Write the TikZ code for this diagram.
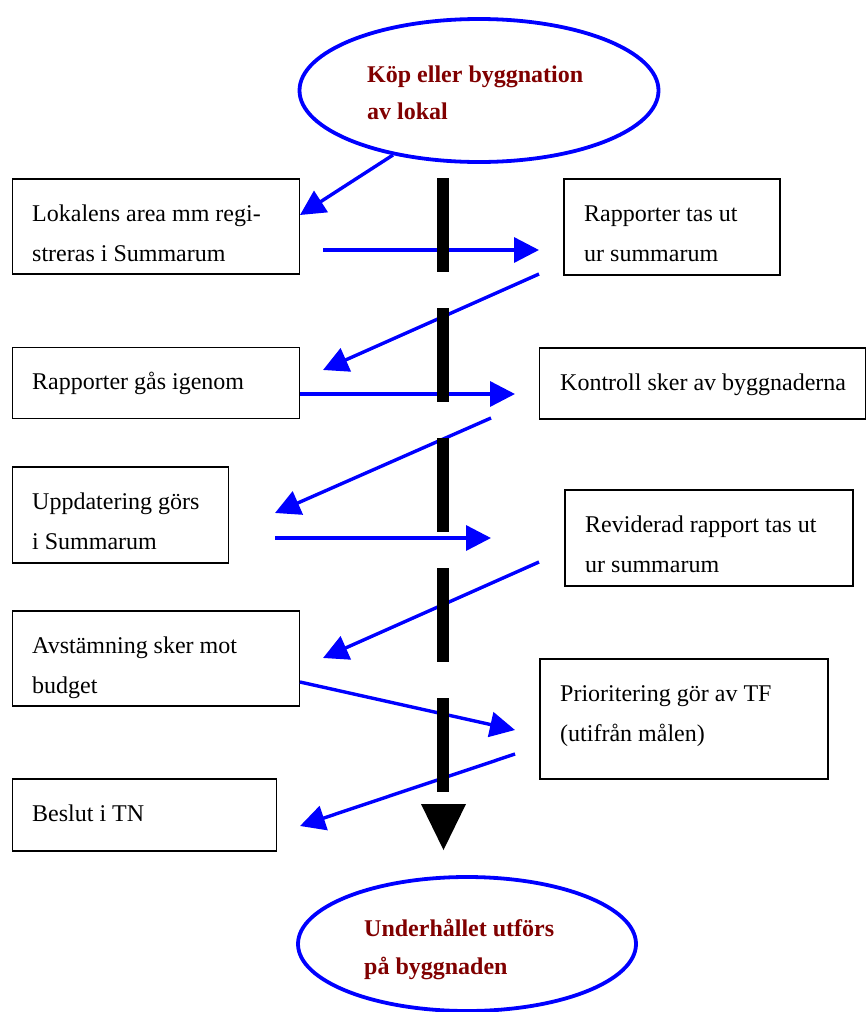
\documentclass[tikz,border=0pt]{standalone}
\usepackage{fontspec}
\setmainfont{Liberation Serif}
\usetikzlibrary{arrows.meta,shapes.geometric}
\definecolor{maroonred}{RGB}{128,0,0}
\definecolor{pureblue}{RGB}{0,0,255}
\newcommand{\twoln}[3]{\vtop{\baselineskip=#3pt\hbox{#1}\hbox{#2}}}
\begin{document}
\begin{tikzpicture}[x=1pt,y=-1pt,
  font=\fontsize{24}{40}\selectfont,
  box/.style={draw=black, line width=1.8pt, rectangle, anchor=north west, inner sep=0pt},
  txt/.style={anchor=base west, inner sep=0pt},
  etxt/.style={anchor=base west, inner sep=0pt, text=maroonred, font=\fontsize{24}{37}\selectfont\bfseries},
  flow/.style={draw=pureblue, line width=3.4pt, -{Triangle[length=25pt,width=25pt]}},
  oval/.style={draw=pureblue, line width=3.8pt, ellipse, inner sep=0pt},
  bar/.style={fill=black}]
\useasboundingbox (0,0) rectangle (866,1012);

% ellipses
\node[oval, minimum width=359pt, minimum height=143pt] (e1) at (479,90.5) {};
\node[etxt] (et1) at (367,82) {\twoln{Köp eller byggnation}{av lokal}{37}};
\node[oval, minimum width=338pt, minimum height=134pt] (e2) at (467,944) {};
\node[etxt] (et2) at (364,936) {\twoln{Underhållet utförs}{på byggnaden}{38}};

% boxes
\node[box, minimum width=287pt, minimum height=95pt] (b1) at (11.5,178) {};
\node[txt] (t1) at (32,221) {\twoln{Lokalens area mm regi-}{streras i Summarum}{40}};
\node[box, minimum width=216pt, minimum height=96pt] (b2) at (563,178) {};
\node[txt] (t2) at (584,221) {\twoln{Rapporter tas ut}{ur summarum}{40}};
\node[box, minimum width=287pt, minimum height=71pt] (b3) at (11.5,346.5) {};
\node[txt] (t3) at (32,389.5) {Rapporter gås igenom};
\node[box, minimum width=326.5pt, minimum height=71pt] (b4) at (538.5,347) {};
\node[txt] (t4) at (560,390) {Kontroll sker av byggnaderna};
\node[box, minimum width=216pt, minimum height=96pt] (b5) at (11.5,466) {};
\node[txt] (t5) at (32,509) {\twoln{Uppdatering görs}{i Summarum}{40}};
\node[box, minimum width=288pt, minimum height=96pt] (b6) at (564,489) {};
\node[txt] (t6) at (585,532) {\twoln{Reviderad rapport tas ut}{ur summarum}{40}};
\node[box, minimum width=287pt, minimum height=95pt] (b7) at (11.5,610) {};
\node[txt] (t7) at (32,653) {\twoln{Avstämning sker mot}{budget}{40}};
\node[box, minimum width=288pt, minimum height=120pt] (b8) at (539,658) {};
\node[txt] (t8) at (560,701) {\twoln{Prioritering gör av TF}{(utifrån målen)}{40}};
\node[box, minimum width=264pt, minimum height=72pt] (b9) at (11.5,778) {};
\node[txt] (t9) at (32,821) {Beslut i TN};

% arrow endpoints
\coordinate (a1s) at (393,155);  \coordinate (a1e) at (300,215);
\coordinate (a2s) at (323,250);  \coordinate (a2e) at (539,250);
\coordinate (a3s) at (539,274);  \coordinate (a3e) at (323,370);
\coordinate (a4s) at (300,394);  \coordinate (a4e) at (515,394);
\coordinate (a5s) at (491,418);  \coordinate (a5e) at (275,513);
\coordinate (a6s) at (275,538);  \coordinate (a6e) at (491,538);
\coordinate (a7s) at (539,562);  \coordinate (a7e) at (323,658);
\coordinate (a8s) at (300,682);  \coordinate (a8e) at (515,730);
\coordinate (a9s) at (515,754);  \coordinate (a9e) at (300,826);

\draw[flow] (a1s) -- (a1e);
\draw[flow] (a2s) -- (a2e);
\draw[flow] (a3s) -- (a3e);
\draw[flow] (a4s) -- (a4e);
\draw[flow] (a5s) -- (a5e);
\draw[flow] (a6s) -- (a6e);
\draw[flow] (a7s) -- (a7e);
\draw[flow] (a8s) -- (a8e);
\draw[flow] (a9s) -- (a9e);

% central bar segments
\fill[bar] (437,178) rectangle (449,272);
\fill[bar] (437,308) rectangle (449,402);
\fill[bar] (437,438) rectangle (449,532);
\fill[bar] (437,568) rectangle (449,662);
\fill[bar] (437,698) rectangle (449,792);
\fill[bar] (421,804) -- (466,804) -- (443.5,850) -- cycle;
\end{tikzpicture}
\end{document}
